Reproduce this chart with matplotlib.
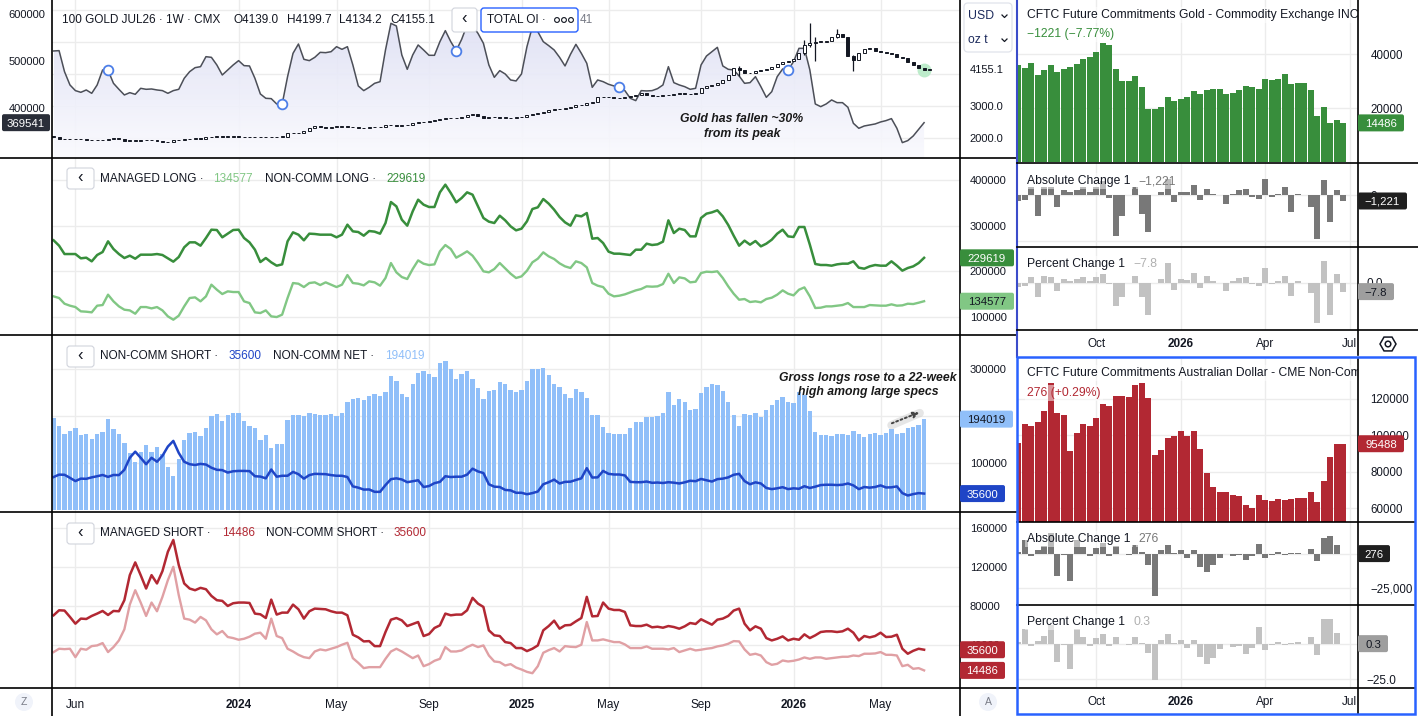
import numpy as np
import matplotlib.pyplot as plt
from matplotlib.patches import FancyBboxPatch, Circle, RegularPolygon
from matplotlib.lines import Line2D
from matplotlib.colors import LinearSegmentedColormap
from matplotlib.transforms import IdentityTransform

plt.rcParams['font.family'] = ['Liberation Sans', 'DejaVu Sans']

W, H = 1418, 716
PX = IdentityTransform()

# ---------------- main chart: weekly bars, x = bar index ----------------
month_ticks = [4, 34, 52, 69, 86, 102, 119, 136, 152]
month_labels = ["Jun", "2024", "May", "Sep", "2025", "May", "Sep", "2026", "May"]

# total open interest (thousands)
total_oi_k = [
    521.6, 522.3, 477.7, 449.5, 437.5, 433.9, 438.9, 431.8, 449.5, 481.3,
    480.6, 453.0, 440.3, 428.3, 433.2, 429.7, 442.4, 440.3, 441.0, 438.9,
    437.5, 431.8, 437.5, 440.3, 463.6, 477.7, 486.2, 488.3, 509.5, 508.1,
    491.9, 470.7, 481.3, 491.9, 501.1, 490.5, 489.8, 463.6, 430.4, 421.2,
    420.5, 409.2, 408.5, 467.1, 516.6, 536.4, 503.9, 501.1, 508.1, 518.7,
    518.0, 520.1, 530.7, 525.1, 530.7, 491.9, 447.4, 437.5, 444.5, 453.0,
    456.5, 523.7, 580.2, 574.6, 513.1, 482.7, 513.1, 534.3, 523.7, 512.4,
    512.4, 541.3, 564.7, 541.3, 522.3, 546.3, 576.7, 574.6, 559.0, 537.8,
    491.9, 465.7, 479.9, 472.8, 460.1, 458.0, 472.8, 530.7, 573.1, 562.5,
    541.3, 532.9, 523.7, 508.1, 489.8, 514.5, 535.7, 516.6, 495.4, 444.5,
    460.1, 456.5, 450.9, 447.4, 444.5, 437.5, 421.2, 416.3, 437.5, 436.8,
    437.5, 441.7, 449.5, 488.3, 454.4, 449.5, 445.9, 440.3, 442.4, 491.9,
    510.9, 520.1, 529.3, 489.8, 482.7, 481.3, 468.6, 453.0, 454.4, 467.1,
    445.9, 423.3, 435.3, 467.1, 483.4, 481.3, 498.9, 527.2, 527.2, 481.3,
    409.2, 403.5, 409.2, 417.7, 412.0, 412.0, 402.1, 368.2, 357.6, 362.5,
    364.7, 366.8, 371.0, 373.9, 378.1, 357.6, 327.2, 331.5, 341.3, 355.5,
    369.541,
]
roll_idx = [10, 42, 74, 104, 135]

# 100 GOLD JUL26 weekly closes
gold_close = [
    2042, 1979, 1958, 1958, 1958, 1958, 1937, 1937, 1937, 1937,
    1979, 1979, 1979, 1917, 1917, 1917, 1937, 1937, 1937, 1917,
    1865, 1865, 1937, 1937, 1979, 1958, 2000, 1958, 2021, 2021,
    2063, 2042, 2042, 2063, 2042, 2031, 2042, 2031, 2031, 2042,
    2031, 2042, 2042, 2146, 2146, 2167, 2219, 2302, 2375, 2354,
    2323, 2354, 2354, 2375, 2354, 2333, 2313, 2313, 2333, 2333,
    2354, 2396, 2396, 2375, 2396, 2417, 2458, 2490, 2490, 2521,
    2563, 2594, 2636, 2625, 2636, 2667, 2719, 2740, 2688, 2615,
    2646, 2646, 2636, 2636, 2625, 2646, 2667, 2708, 2750, 2771,
    2813, 2875, 2896, 2917, 2927, 2958, 3021, 3042, 3083, 3136,
    3271, 3292, 3271, 3261, 3240, 3292, 3313, 3355, 3396, 3333,
    3313, 3323, 3333, 3333, 3365, 3396, 3375, 3375, 3417, 3552,
    3625, 3657, 3708, 3813, 3969, 4177, 4125, 4042, 4021, 4104,
    4125, 4146, 4229, 4302, 4386, 4417, 4459, 4646, 4907, 4980,
    5011, 5011, 5042, 5167, 5240, 5146, 4563, 4438, 4646, 4771,
    4803, 4730, 4688, 4667, 4625, 4542, 4490, 4386, 4271, 4177,
    4125, 4155.1,
]
wick_idx = [126, 138, 139, 140, 144, 147]
wick_high = [4250, 5050, 5600, 5150, 5420, 4600]
wick_low = [3950, 4600, 4850, 4420, 5140, 4100]

managed_long_k = [
    145.2, 141.6, 129.1, 124.8, 121.8, 112.4, 111.6, 110.2, 124.8, 126.2,
    148.9, 134.3, 123.3, 116.0, 114.5, 107.2, 121.8, 121.8, 118.9, 121.8,
    114.5, 101.4, 94.1, 102.9, 123.3, 141.6, 143.0, 134.3, 145.2, 170.8,
    159.8, 150.3, 156.2, 154.7, 154.7, 134.3, 130.6, 110.2, 108.7, 114.5,
    101.4, 99.9, 105.1, 141.6, 174.4, 172.9, 165.6, 174.4, 175.9, 170.0,
    175.9, 170.8, 165.6, 170.8, 191.9, 174.4, 172.9, 169.3, 178.1, 175.9,
    168.6, 185.4, 218.2, 197.8, 187.5, 183.2, 205.1, 224.0, 216.7, 213.8,
    215.3, 243.8, 257.6, 248.9, 229.9, 236.5, 243.8, 234.3, 218.2, 200.0,
    197.8, 205.1, 218.2, 206.5, 194.8, 185.4, 189.0, 201.4, 219.7, 227.7,
    241.6, 232.8, 227.0, 217.5, 210.9, 207.3, 221.9, 218.2, 208.7, 174.4,
    168.6, 165.6, 151.0, 145.2, 146.7, 149.6, 154.0, 158.3, 161.3, 167.1,
    166.4, 167.1, 172.2, 194.8, 174.4, 186.8, 184.6, 175.9, 177.3, 196.3,
    199.2, 198.5, 200.0, 185.4, 167.1, 151.0, 137.9, 139.4, 132.8, 134.3,
    132.1, 139.4, 142.3, 148.9, 158.3, 151.0, 147.4, 159.8, 164.9, 145.2,
    119.7, 120.4, 123.3, 123.3, 124.8, 126.2, 130.6, 121.8, 121.8, 121.8,
    126.2, 125.5, 124.8, 124.8, 127.7, 124.8, 125.5, 129.1, 128.4, 131.3,
    134.577,
]
noncomm_long_k = [
    267.9, 256.2, 237.9, 237.9, 237.9, 228.5, 229.9, 221.9, 235.8, 242.3,
    265.7, 248.9, 237.9, 229.2, 234.3, 227.7, 236.5, 236.5, 236.5, 237.9,
    235.8, 228.5, 221.2, 231.4, 252.6, 263.5, 263.5, 256.2, 273.0, 291.2,
    290.5, 274.5, 282.5, 290.5, 291.2, 273.0, 263.5, 247.4, 220.4, 229.2,
    219.7, 212.4, 215.3, 265.7, 285.4, 280.3, 267.9, 282.5, 281.8, 280.3,
    280.3, 280.3, 274.5, 280.3, 302.2, 287.6, 286.1, 278.1, 288.3, 286.9,
    282.5, 305.8, 351.8, 342.3, 313.1, 300.0, 331.4, 356.9, 346.0, 340.9,
    340.9, 373.0, 389.8, 371.5, 351.1, 360.6, 373.0, 367.9, 342.3, 316.8,
    308.8, 305.8, 321.9, 311.7, 298.5, 289.8, 293.4, 309.5, 336.5, 340.2,
    358.4, 348.2, 335.0, 319.0, 307.3, 300.0, 322.6, 320.4, 327.7, 271.5,
    273.0, 262.0, 243.1, 238.7, 238.7, 237.2, 235.8, 247.4, 247.4, 260.6,
    257.7, 259.1, 265.0, 311.7, 283.9, 293.4, 290.5, 276.6, 276.6, 316.8,
    326.3, 329.2, 333.6, 320.4, 301.5, 278.1, 256.2, 267.2, 258.4, 266.4,
    254.7, 260.6, 269.3, 282.5, 291.2, 276.6, 275.2, 297.1, 297.1, 258.4,
    216.1, 213.9, 213.9, 212.4, 215.3, 216.8, 216.8, 221.9, 208.0, 205.8,
    210.9, 213.9, 212.4, 212.4, 221.9, 212.4, 201.5, 207.3, 210.9, 218.2,
    229.619,
]
noncomm_short_k = [
    70.8, 75.9, 75.6, 69.1, 62.2, 67.4, 67.0, 70.1, 72.5, 75.2,
    71.1, 75.2, 74.9, 86.2, 111.8, 124.8, 111.8, 98.1, 111.8, 103.3,
    115.9, 135.7, 147.7, 122.1, 103.3, 98.1, 96.4, 98.8, 97.4, 90.6,
    86.2, 85.5, 80.3, 83.1, 83.8, 83.8, 83.4, 72.5, 71.8, 68.0,
    86.8, 71.5, 73.5, 73.5, 81.7, 76.9, 67.4, 74.9, 77.6, 77.3,
    76.9, 74.9, 73.5, 73.5, 70.8, 50.9, 48.2, 44.1, 44.4, 39.3,
    39.3, 53.7, 66.3, 68.0, 65.6, 59.8, 61.9, 63.9, 49.6, 51.6,
    57.8, 60.5, 72.5, 70.8, 71.5, 71.5, 75.9, 88.6, 82.7, 79.3,
    55.4, 50.3, 49.6, 43.4, 42.4, 37.3, 37.3, 34.2, 36.6, 40.0,
    55.4, 59.8, 65.3, 57.1, 60.5, 60.9, 64.6, 68.0, 89.6, 69.7,
    70.1, 83.8, 77.6, 76.2, 76.2, 74.2, 60.5, 59.8, 59.8, 61.2,
    58.5, 59.1, 58.1, 59.8, 58.8, 57.1, 59.5, 62.9, 61.9, 66.7,
    63.9, 61.2, 66.3, 67.4, 70.1, 75.6, 77.6, 62.2, 55.4, 59.5,
    57.1, 47.5, 45.1, 46.8, 49.2, 45.1, 46.8, 45.8, 51.3, 47.5,
    50.3, 53.7, 54.4, 54.4, 53.7, 54.4, 57.1, 53.0, 45.1, 49.6,
    48.2, 49.6, 53.0, 48.6, 48.9, 50.9, 36.6, 31.5, 34.5, 36.6,
    35.6,
]
managed_short_k = [
    33.2, 36.6, 36.2, 36.6, 28.0, 36.6, 35.6, 39.3, 40.0, 42.4,
    33.2, 38.3, 45.1, 56.4, 81.7, 96.4, 83.8, 70.1, 83.8, 74.9,
    89.6, 106.7, 120.3, 91.3, 67.4, 66.3, 63.3, 69.1, 65.6, 56.4,
    51.3, 54.7, 48.6, 47.5, 45.8, 46.8, 48.9, 52.0, 53.0, 46.8,
    67.4, 49.6, 47.5, 36.6, 33.8, 30.4, 28.0, 27.0, 33.8, 35.9,
    34.9, 36.6, 38.3, 40.7, 42.7, 27.0, 22.2, 16.8, 17.8, 17.8,
    17.8, 26.3, 33.8, 36.6, 33.8, 30.4, 27.0, 29.7, 18.8, 20.9,
    24.3, 26.3, 38.3, 33.8, 33.8, 34.9, 38.3, 40.7, 38.3, 40.0,
    29.7, 23.6, 22.9, 19.5, 20.9, 17.4, 15.4, 13.0, 11.6, 18.8,
    32.5, 35.2, 37.3, 33.8, 39.3, 38.6, 38.3, 40.7, 63.9, 45.1,
    45.1, 46.2, 44.8, 43.4, 43.4, 41.0, 37.3, 37.3, 37.3, 39.0,
    36.6, 36.6, 36.6, 35.9, 37.3, 33.2, 34.9, 36.6, 34.9, 35.6,
    36.6, 37.3, 39.0, 40.0, 41.7, 44.4, 44.1, 35.9, 30.4, 31.5,
    29.7, 22.9, 20.2, 21.2, 24.6, 23.6, 24.3, 25.6, 27.7, 26.3,
    27.7, 27.7, 26.3, 27.0, 27.7, 28.4, 28.4, 29.7, 29.1, 31.5,
    31.5, 31.8, 33.2, 30.4, 30.4, 29.7, 18.8, 20.2, 16.1, 16.8,
    14.486,
]

# ---------------- right charts: weekly COT columns ----------------
right_ticks = [12, 25, 38, 51]
right_labels = ["Oct", "2026", "Apr", "Jul"]

gold_ms_prev = 37200
gold_ms = [
    36000, 34900, 36800, 32300, 34200, 36000, 33500, 34600, 35300, 36400,
    38300, 39000, 40900, 44000, 43500, 34600, 30100, 30100, 32000, 27900,
    19800, 19800, 20500, 24200, 22700, 23500, 24200, 26400, 25300, 26800,
    27200, 27200, 25300, 25700, 26800, 28300, 27900, 27200, 30900, 30500,
    30900, 32700, 29000, 29400, 29400, 26800, 17200, 20500, 14600, 15707, 14486,
]
aud_prev = 95000
aud_nc = [
    96150, 106420, 104950, 107520, 113580, 128810, 112290, 111370, 91370, 101470,
    106420, 105140, 109720, 117430, 115960, 121830, 121830, 121100, 127520, 128810,
    120370, 89540, 92110, 98710, 99450, 102570, 99820, 102380, 92650, 79630,
    71740, 68990, 68990, 67340, 66600, 61830, 60180, 67340, 64580, 64030,
    65130, 64580, 64950, 65680, 65680, 69170, 63660, 75040, 88250, 95212, 95488,
]

TXT = "#131722"
GRID = "#ececec"
GREEN, LGREEN = "#388e3c", "#81c784"
RED, LRED = "#b22833", "#e0a0a4"
BLUE, LBLUE = "#1f45c6", "#90bff9"

fig = plt.figure(figsize=(W / 100, H / 100), dpi=100)


def add_ax(x0, y0, x1, y1):
    ax = fig.add_axes([x0 / W, 1 - y1 / H, (x1 - x0) / W, (y1 - y0) / H])
    for s in ax.spines.values():
        s.set_visible(False)
    ax.tick_params(length=0, labelsize=8, labelcolor=TXT)
    return ax


def T(x, y, s, **kw):
    kw.setdefault("va", "center")
    kw.setdefault("color", TXT)
    return fig.text(x, H - y, s, transform=PX, **kw)


def tag(ax, val, txt, fc, tc, x0, x1, h=17):
    yd = ax.transData.transform((0, val))[1]
    fig.add_artist(FancyBboxPatch((x0, yd - h / 2), x1 - x0, h,
                                  boxstyle="round,pad=0,rounding_size=2",
                                  transform=PX, fc=fc, ec="none", zorder=5))
    fig.text((x0 + x1) / 2, yd, txt, transform=PX, ha="center", va="center_baseline",
             color=tc, fontsize=8.2, zorder=6)


def hline(y, x0, x1, color="black", lw=1.2):
    fig.add_artist(Line2D([x0, x1], [H - y, H - y], transform=PX, color=color, lw=lw, zorder=4))


def vline(x, y0, y1, color="black", lw=1.2):
    fig.add_artist(Line2D([x, x], [H - y0, H - y1], transform=PX, color=color, lw=lw, zorder=4))


def button(x0, y0, x1, y1):
    fig.add_artist(FancyBboxPatch((x0, H - y1), x1 - x0, y1 - y0,
                                  boxstyle="round,pad=0,rounding_size=3",
                                  transform=PX, fc="white", ec="#d1d4dc", lw=0.8, zorder=5))
    T((x0 + x1) / 2, (y0 + y1) / 2 - 1, "‹", ha="center", fontsize=12, zorder=6)


x = np.arange(len(total_oi_k))
oi = np.array(total_oi_k) * 1000
mlong = np.array(managed_long_k) * 1000
nclong = np.array(noncomm_long_k) * 1000
ncshort = np.array(noncomm_short_k) * 1000
mshort = np.array(managed_short_k) * 1000
ncnet = nclong - ncshort
XL = (-0.3, 166.6)

ax1 = add_ax(52, 0, 960, 158)
ax2 = add_ax(52, 158, 960, 335)
ax3 = add_ax(52, 335, 960, 512)
ax4 = add_ax(52, 512, 960, 688)
for ax in (ax1, ax2, ax3, ax4):
    ax.set_xlim(*XL)
    ax.set_xticks(month_ticks, month_labels)
    ax.tick_params(labelbottom=False)
    ax.grid(axis="x", color=GRID, lw=1)
    ax.set_axisbelow(True)

# --- panel 1: total OI area + candles ---
ylo, yhi = 294600, 629700
plo, phi = 1375, 6312
ax1.set_ylim(ylo, yhi)
ax1.set_yticks([400000, 500000, 600000])
ax1.tick_params(axis="y", pad=5)
for v in range(2000, 6001, 1000):
    f = (v - plo) / (phi - plo)
    ax1.plot([0, 1], [f, f], transform=ax1.transAxes, color=GRID, lw=1, zorder=0)
fill = ax1.fill_between(x, oi, ylo, color="none", lw=0)
cmap = LinearSegmentedColormap.from_list("oi", ["#fafafe", "#dadcf3"])
img = ax1.imshow(np.linspace(0, 1, 256).reshape(-1, 1), cmap=cmap, aspect="auto",
                 origin="lower", extent=[0, x[-1], ylo, yhi], zorder=1, alpha=0.9)
img.set_clip_path(fill.get_paths()[0], transform=ax1.transData)
ax1.set_xlim(*XL)
ax1.set_ylim(ylo, yhi)
ax1.plot(x, oi, color="#4c4f58", lw=1.1, zorder=3)
ax1.plot(x[roll_idx], oi[roll_idx], "o", ms=7, mfc="white", mec="#4d7fe8", mew=1.3, zorder=4)

ax1p = ax1.twinx()
for s in ax1p.spines.values():
    s.set_visible(False)
ax1p.set_ylim(plo, phi)
ax1p.set_yticks([2000, 3000, 4155.1], ["2000.0", "3000.0", "4155.1"])
ax1p.tick_params(length=0, labelsize=8, labelcolor=TXT, pad=7)
close = np.array(gold_close, float)
opn = np.r_[close[0], close[:-1]]
xc = np.arange(len(close))
up = close >= opn
ax1p.plot(160, close[160], "o", ms=9, color="#bdeccb", zorder=2)
ax1p.vlines(wick_idx, wick_low, wick_high, color=TXT, lw=0.9, zorder=2)
ax1p.bar(xc, np.maximum(np.abs(close - opn), 14), bottom=np.minimum(opn, close), width=0.55,
         color=np.where(up, "white", TXT), edgecolor=TXT, lw=0.7, zorder=3)
ax1p.text(126.5, 2360, "Gold has fallen ~30%\nfrom its peak", ha="center", va="center",
          fontsize=8.8, fontweight="bold", style="italic", color="#1a1a1a", linespacing=1.25)
ax1p.set_xlim(*XL)

# --- panel 2: longs ---
ax2.set_ylim(60600, 448200)
ax2.yaxis.tick_right()
ax2.set_yticks([100000, 200000, 300000, 400000])
ax2.tick_params(axis="y", pad=7)
ax2.grid(axis="y", color=GRID, lw=1)
ax2.plot(x, mlong, color=LGREEN, lw=1.7)
ax2.plot(x, nclong, color=GREEN, lw=1.8)

# --- panel 3: net bars + non-comm short ---
ax3.set_ylim(-3600, 373000)
ax3.yaxis.tick_right()
ax3.set_yticks([100000, 200000, 300000], ["100000", "", "300000"])
ax3.tick_params(axis="y", pad=7)
ax3.grid(axis="y", color=GRID, lw=1)
ax3.bar(x, ncnet, width=0.8, color=LBLUE, zorder=2)
ax3.plot(x, ncshort, color=BLUE, lw=1.8, zorder=3)
ax3.plot([154.0, 159.2], [181000, 207000], color="#c8c8c8", lw=6, alpha=0.45,
         solid_capstyle="round", zorder=3)
ax3.annotate("", xy=(159.6, 210500), xytext=(153.6, 183000),
             arrowprops=dict(arrowstyle="-|>", color="#444444", lw=1.4,
                             ls=(0, (1, 1.4)), mutation_scale=9), zorder=4)
ax3.text(149.7, 266000, "Gross longs rose to a 22-week\nhigh among large specs", ha="center",
         va="center", fontsize=8.8, fontweight="bold", style="italic", color="#1a1a1a",
         linespacing=1.25)

# --- panel 4: shorts ---
ax4.set_ylim(-3500, 176300)
ax4.yaxis.tick_right()
ax4.set_yticks([40000, 80000, 120000, 160000])
ax4.tick_params(axis="y", pad=7)
ax4.grid(axis="y", color=GRID, lw=1)
ax4.plot(x, mshort, color=LRED, lw=1.7)
ax4.plot(x, ncshort, color=RED, lw=1.8)
ax4.tick_params(axis="x", labelbottom=True, pad=8, labelsize=8.5)
for lab in ax4.get_xticklabels():
    if lab.get_text().isdigit():
        lab.set_fontweight("bold")

# ---------------- right charts ----------------
k = np.arange(len(gold_ms))
g = np.array(gold_ms, float)
g_prev = np.r_[gold_ms_prev, g[:-1]]
g_abs = g - g_prev
g_pct = g_abs / g_prev * 100
a = np.array(aud_nc, float)
a_prev = np.r_[aud_prev, a[:-1]]
a_abs = a - a_prev
a_pct = a_abs / a_prev * 100

rg1 = add_ax(1017, 0, 1358, 163)
rg2 = add_ax(1017, 163, 1358, 247)
rg3 = add_ax(1017, 247, 1358, 330)
ra1 = add_ax(1017, 359, 1358, 522)
ra2 = add_ax(1017, 522, 1358, 605)
ra3 = add_ax(1017, 605, 1358, 688)
for ax in (rg1, rg2, rg3, ra1, ra2, ra3):
    ax.set_xlim(-0.2, 52.26)
    ax.set_xticks(right_ticks, right_labels)
    ax.tick_params(labelbottom=False)
    ax.grid(color=GRID, lw=1)
    ax.set_axisbelow(True)
    ax.yaxis.tick_right()
    ax.tick_params(axis="y", pad=9, labelsize=8.3)

rg1.set_ylim(-370, 60000)
rg1.set_yticks([20000, 40000])
rg1.bar(k, g, width=0.87, color=GREEN)
rg2.set_ylim(-11300, 7100)
rg2.set_yticks([-10000, 0], ["", "0"])
rg2.bar(k, g_abs, width=0.87, color="#787878")
rg3.set_ylim(-42, 32)
rg3.set_yticks([0], ["0.0"])
rg3.bar(k, g_pct, width=0.87, color="#c2c2c2")

ra1.set_ylim(52600, 141900)
ra1.set_yticks([60000, 80000, 100000, 120000])
ra1.bar(k, a, width=0.87, color=RED)
ra2.set_ylim(-37500, 23500)
ra2.set_yticks([-25000, 0], ["−25,000", ""])
ra2.bar(k, a_abs, width=0.87, color="#787878")
ra3.set_ylim(-31.4, 27.9)
ra3.set_yticks([-25, 0], ["−25.0", ""])
ra3.bar(k, a_pct, width=0.87, color="#c2c2c2")

for ax in (rg3, ra3):
    ax.tick_params(labelbottom=True, pad=6, labelsize=8.5)
    for lab in ax.get_xticklabels():
        if lab.get_text().isdigit():
            lab.set_fontweight("bold")

# ---------------- value tags ----------------
tag(ax1, oi[-1], "369541", "#2a2e39", "white", 2, 50)
tag(ax2, nclong[-1], "229619", GREEN, "white", 960, 1014)
tag(ax2, mlong[-1], "134577", LGREEN, TXT, 960, 1014)
tag(ax3, ncnet[-1], "194019", LBLUE, TXT, 960, 1013)
tag(ax3, ncshort[-1], "35600", BLUE, "white", 960, 1005)
tag(ax4, ncshort[-1], "35600", RED, "white", 960, 1005)
tag(ax4, mshort[-1], "14486", RED, "white", 960, 1005)
tag(rg1, g[-1], "14486", GREEN, "white", 1358, 1404)
tag(rg2, g_abs[-1], "−1,221", "#1f1f1f", "white", 1358, 1407)
tag(rg3, g_pct[-1], "−7.8", "#9e9e9e", TXT, 1358, 1394)
tag(ra1, a[-1], "95488", RED, "white", 1358, 1404)
tag(ra2, a_abs[-1], "276", "#1f1f1f", "white", 1358, 1390)
tag(ra3, a_pct[-1], "0.3", "#9e9e9e", TXT, 1358, 1388)

# ---------------- legends ----------------
LF = 8.5
T(62, 20, "100 GOLD JUL26 · 1W · CMX", fontsize=LF)
for s, xx in (("O4139.0", 233), ("H4199.7", 287), ("L4134.2", 339), ("C4155.1", 390)):
    T(xx, 20, s, fontsize=LF)
button(452, 8, 477, 32)
fig.add_artist(FancyBboxPatch((481, H - 32), 97, 24, boxstyle="round,pad=0,rounding_size=3",
                              transform=PX, fc="white", ec="#2962ff", lw=1.0, zorder=5))
T(487, 20, "TOTAL OI ·", fontsize=LF, zorder=6)
for cx in (557, 564, 571):
    fig.add_artist(Circle((cx, H - 20), 2.4, transform=PX, fc="white", ec=TXT, lw=0.8, zorder=6))
T(580, 20, "41", fontsize=LF, color="#787b86")

button(67, 168, 94, 189)
T(100, 179, "MANAGED LONG ·", fontsize=LF)
T(213, 179, "134577", fontsize=LF, color=LGREEN)
T(265, 179, "NON-COMM LONG ·", fontsize=LF)
T(386, 179, "229619", fontsize=LF, color=GREEN)

button(67, 346, 94, 367)
T(100, 356, "NON-COMM SHORT ·", fontsize=LF)
T(229, 356, "35600", fontsize=LF, color=BLUE)
T(273, 356, "NON-COMM NET ·", fontsize=LF)
T(385, 356, "194019", fontsize=LF, color=LBLUE)

button(67, 523, 94, 544)
T(100, 533, "MANAGED SHORT ·", fontsize=LF)
T(222, 533, "14486", fontsize=LF, color=RED)
T(266, 533, "NON-COMM SHORT ·", fontsize=LF)
T(394, 533, "35600", fontsize=LF, color=RED)

LBOX = dict(fc="white", ec="none", alpha=0.5, pad=1.5)
RF = 8.7
T(1027, 15, "CFTC Future Commitments Gold - Commodity Exchange INC", fontsize=RF, bbox=LBOX)
T(1027, 34, "−1221 (−7.77%)", fontsize=RF, color=GREEN, bbox=LBOX)
T(1027, 181, "Absolute Change 1", fontsize=RF, bbox=LBOX)
T(1138, 181, "−1,221", fontsize=RF, color="#787878", bbox=LBOX)
T(1027, 264, "Percent Change 1", fontsize=RF, bbox=LBOX)
T(1133, 264, "−7.8", fontsize=RF, color="#b0b0b0", bbox=LBOX)

t = T(1027, 373, "CFTC Future Commitments Australian Dollar - CME Non-Commercial", fontsize=RF,
      bbox=LBOX)
t.set_clip_box(ra1.bbox)
t.set_clip_on(True)
T(1027, 393, "276 (+0.29%)", fontsize=RF, color=RED, bbox=LBOX)
T(1027, 539, "Absolute Change 1", fontsize=RF, bbox=LBOX)
T(1138, 539, "276", fontsize=RF, color="#787878", bbox=LBOX)
T(1027, 622, "Percent Change 1", fontsize=RF, bbox=LBOX)
T(1133, 622, "0.3", fontsize=RF, color="#b0b0b0", bbox=LBOX)

# USD / oz t selector
fig.add_artist(FancyBboxPatch((964, H - 52), 48, 49, boxstyle="round,pad=0,rounding_size=4",
                              transform=PX, fc="white", ec="#e0e3eb", lw=0.9, zorder=5))
T(968, 16, "USD", fontsize=8.8, color="#1c2a5c", zorder=6)
T(968, 40, "oz t", fontsize=8.8, color="#1c2a5c", zorder=6)
for yy in (16, 40):
    fig.add_artist(Line2D([1002, 1004.5, 1007], [H - yy + 1, H - yy - 1.5, H - yy + 1],
                          transform=PX, color=TXT, lw=0.9, zorder=6))

# ---------------- frame lines ----------------
for yy in (158, 335, 512, 688):
    hline(yy, 0, 1016)
vline(52, 0, 716)
vline(960, 0, 716)
vline(1017, 0, 357, color="#3b4cca", lw=1.5)
vline(1358, 0, 355)
for yy in (163, 247, 330):
    hline(yy, 1017, 1418)
vline(1358, 359, 714)
for yy in (522, 605, 688):
    hline(yy, 1017, 1415)
fig.add_artist(FancyBboxPatch((1017, H - 714), 398, 357, boxstyle="square,pad=0", transform=PX,
                              fc="none", ec="#2962ff", lw=1.8, zorder=6))

# corner buttons and gear
for cx, s in ((24, "Z"), (988, "A")):
    fig.add_artist(Circle((cx, H - 702), 9, transform=PX, fc="#f0f3fa", ec="none", zorder=5))
    T(cx, 702, s, ha="center", fontsize=7.5, color="#787b86", zorder=6)
fig.add_artist(RegularPolygon((1388, H - 344), 6, radius=8, orientation=np.pi / 6, transform=PX,
                              fill=False, ec=TXT, lw=1.1, zorder=5))
fig.add_artist(Circle((1388, H - 344), 2.8, transform=PX, fill=False, ec=TXT, lw=1.1, zorder=5))

fig.savefig("out.png", dpi=100, facecolor="white")
